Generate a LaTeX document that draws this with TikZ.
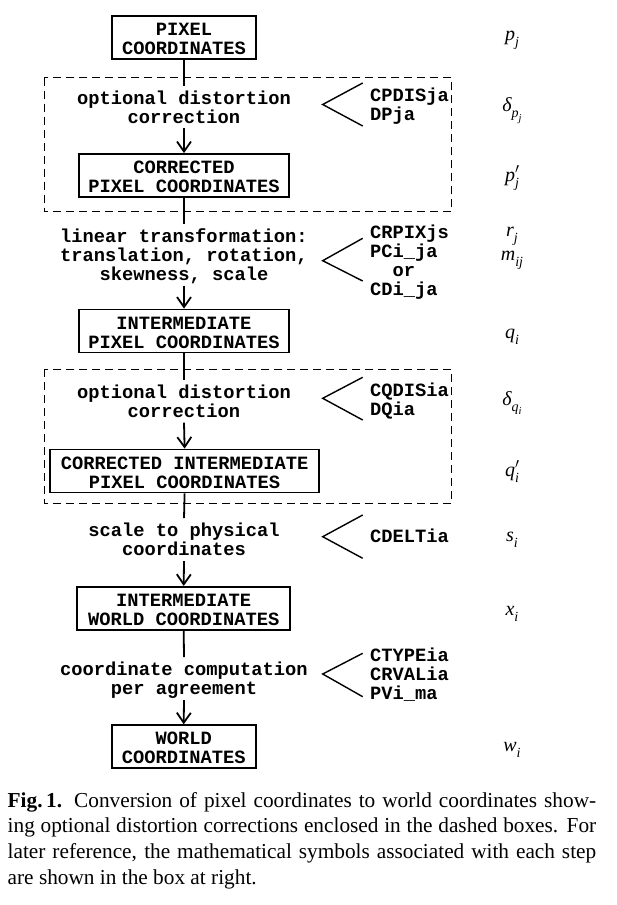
\documentclass[tikz,border=0pt]{standalone}
\usepackage{fontspec}
\setmainfont{Liberation Serif}
\setmonofont{Liberation Mono}
\usetikzlibrary{arrows.meta}

\newcommand{\flowfont}{\ttfamily\bfseries\fontsize{18.75}{19}\selectfont}
\newcommand{\tstrut}{\rule{0pt}{18.4pt}}
\newcommand{\dstrut}{\rule[-5.1pt]{0pt}{5.1pt}}
\newcommand{\bstrut}{\rule{0pt}{15.2pt}}
\newcommand{\symfont}{\fontsize{20}{20}\selectfont\itshape}
\newcommand{\subsz}{\fontsize{14}{14}\selectfont\itshape}
\newcommand{\subsubsz}{\fontsize{10.5}{10.5}\selectfont\itshape}
\newcommand{\lowsub}[1]{\raisebox{-0.3em}{\subsz #1}}
\newcommand{\primesub}[1]{\rlap{\raisebox{0.05em}{${}^{\prime}$}}\raisebox{-0.3em}{\subsz #1}}

\tikzset{
  stepbox/.style={draw, line width=1.8pt, inner sep=0pt, align=center, font=\flowfont, minimum height=43pt},
  lbl/.style={inner sep=0pt, align=center, anchor=north, font=\flowfont},
  parm/.style={inner sep=0pt, align=left, anchor=north west, font=\flowfont},
  conn/.style={line width=1.8pt},
  arr/.style={conn, -{Straight Barb[length=10pt,width=14pt]}},
  chev/.style={line width=1.4pt},
  dashbox/.style={draw, line width=1pt, dash pattern=on 8pt off 5pt},
  sym/.style={anchor=base, inner sep=0pt, font=\symfont},
}

\begin{document}
\begin{tikzpicture}[x=1pt,y=-1pt]
\useasboundingbox (0,0) rectangle (616,905);

% dashed boxes
\draw[dashbox] (44,77.7) rectangle (451.7,211.7);
\draw[dashbox] (44,369.3) rectangle (451.7,503.3);

% main boxes
\node[stepbox, minimum width=144.7pt] (b1) at (184,37.5) {\bstrut PIXEL\\COORDINATES};
\node[stepbox, minimum width=210pt] (b2) at (184,175.5) {\bstrut CORRECTED\\PIXEL COORDINATES};
\node[stepbox, minimum width=210pt] (b3) at (184,331) {\bstrut INTERMEDIATE\\PIXEL COORDINATES};
\node[stepbox, minimum width=269.3pt] (b4) at (184.6,471) {\bstrut CORRECTED INTERMEDIATE\\PIXEL COORDINATES};
\node[stepbox, minimum width=212.7pt] (b5) at (183.7,608.3) {\bstrut INTERMEDIATE\\WORLD COORDINATES};
\node[stepbox, minimum width=144pt] (b6) at (183.7,746.7) {\bstrut WORLD\\COORDINATES};

% step labels
\node[lbl] (l1) at (184,85.5) {\tstrut optional distortion\\correction\dstrut};
\node[lbl] (l2) at (184,223.8) {\tstrut linear transformation:\\translation, rotation,\\skewness, scale\dstrut};
\node[lbl] (l3) at (184,379.8) {\tstrut optional distortion\\correction\dstrut};
\node[lbl] (l4) at (184,518.2) {\tstrut scale to physical\\coordinates\dstrut};
\node[lbl] (l5) at (184,657.2) {\tstrut coordinate computation\\per agreement\dstrut};

% connectors
\draw[conn] (b1.south) -- (l1.north);
\draw[arr] (l1.south) -- (b2.north);
\draw[conn] (b2.south) -- (l2.north);
\draw[arr] (l2.south) -- (b3.north);
\draw[conn] (b3.south) -- (l3.north);
\draw[arr] (l3.south) -- (b4.north);
\draw[conn] (b4.south) -- (l4.north);
\draw[arr] (l4.south) -- (b5.north);
\draw[conn] (b5.south) -- (l5.north);
\draw[arr] (l5.south) -- (b6.north);

% keyword lists
\node[parm] (p1) at (370,83.1) {\tstrut CPDISja\\DPja};
\node[parm] (p2) at (370,219.8) {\tstrut CRPIXjs\\PCi\_ja\\~~or\\CDi\_ja};
\node[parm] (p3) at (370,377.8) {\tstrut CQDISia\\DQia};
\node[parm] (p4) at (370,523.8) {\tstrut CDELTia};
\node[parm] (p5) at (370,642.8) {\tstrut CTYPEia\\CRVALia\\PVi\_ma};

% chevrons
\draw[chev] (362.7,83) -- (322.7,104.5) -- (362.7,126);
\draw[chev] (362.7,238.3) -- (322.7,260.7) -- (362.7,281);
\draw[chev] (362.7,377.3) -- (322.7,398.3) -- (362.7,420);
\draw[chev] (362.7,515) -- (322.7,536.7) -- (362.7,558.3);
\draw[chev] (362.7,653.3) -- (322.7,674) -- (362.7,696.7);

% symbols
\node[sym] (s1) at (512,40) {p\lowsub{j}};
\node[sym] (s2) at (512,111.7) {δ\lowsub{p\raisebox{-0.25em}{\subsubsz j}}};
\node[sym] (s3) at (512,181.7) {p\primesub{j}};
\node[sym] (s4) at (512,236.7) {r\lowsub{j}};
\node[sym] (s5) at (512,260.7) {m\lowsub{ij}};
\node[sym] (s6) at (512,338.3) {q\lowsub{i}};
\node[sym] (s7) at (512,405) {δ\lowsub{q\raisebox{-0.25em}{\subsubsz i}}};
\node[sym] (s8) at (512,476.7) {q\primesub{i}};
\node[sym] (s9) at (512,541.7) {s\lowsub{i}};
\node[sym] (s10) at (512,615) {x\lowsub{i}};
\node[sym] (s11) at (512,751.7) {w\lowsub{i}};

% caption
\node[anchor=north west, inner sep=0pt, text width=588.5pt, align=justify,
      font=\fontsize{21.3}{25.6}\selectfont] (cap) at (7.5,792)
 {\rule{0pt}{15pt}\textbf{Fig.\,1.} Conversion of pixel coordinates to world coordinates show-\linebreak ing optional distortion corrections enclosed in the dashed boxes. For\linebreak later reference, the mathematical symbols associated with each step\linebreak are shown in the box at right.};
\end{tikzpicture}
\end{document}
